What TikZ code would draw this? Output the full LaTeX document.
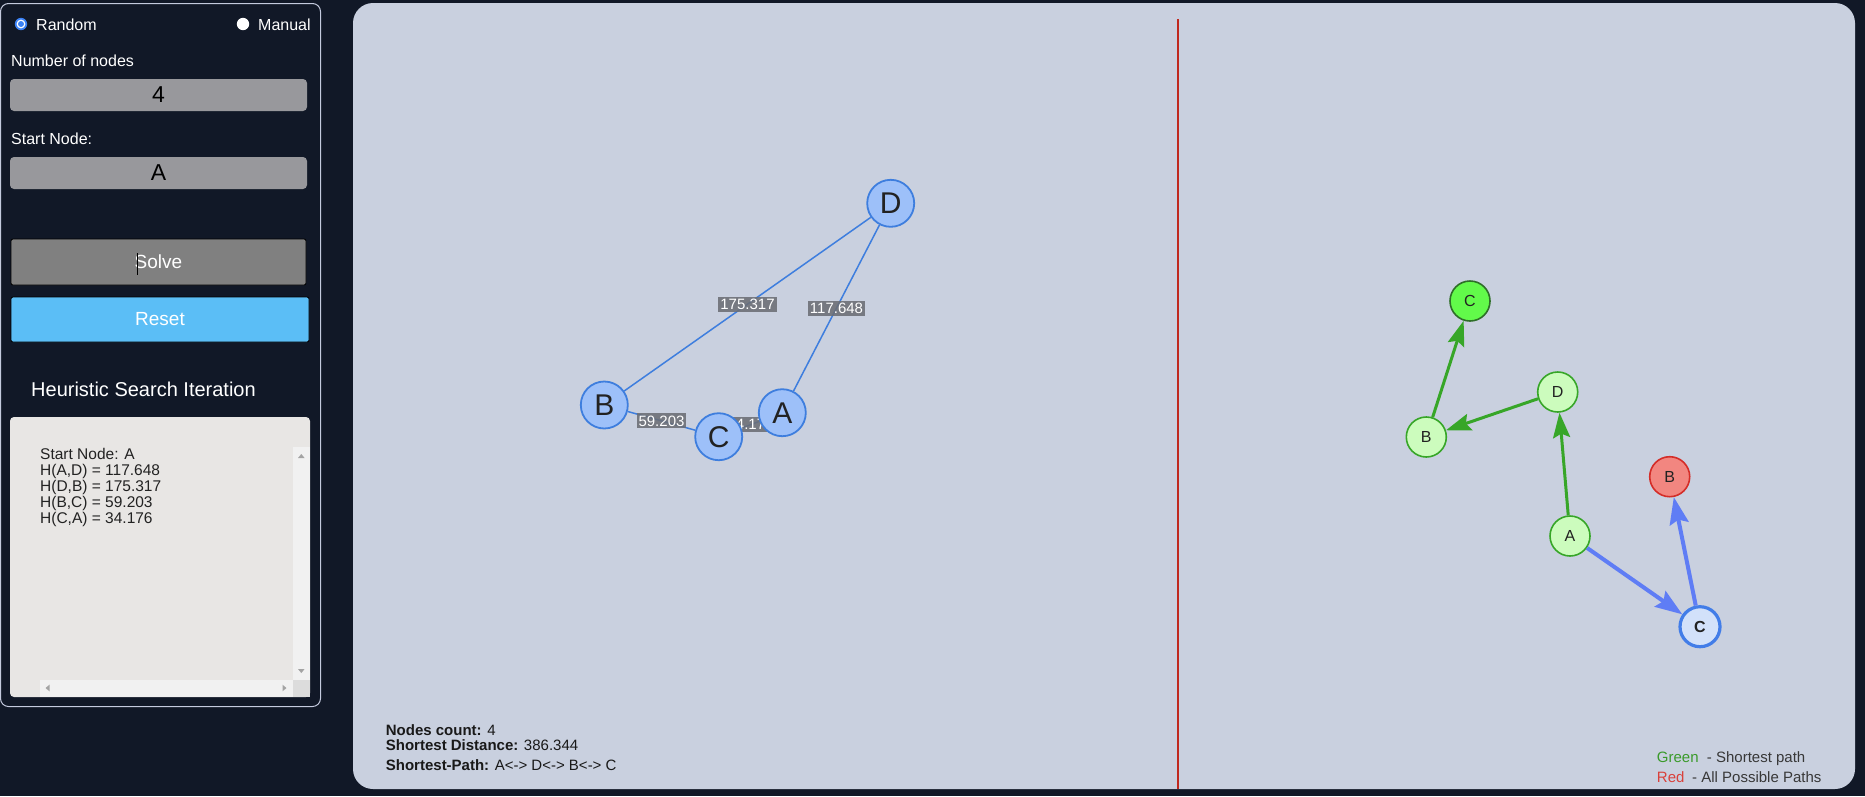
\documentclass[tikz,border=0pt]{standalone}
\usepackage{fontspec}
\setmainfont{Liberation Sans}
\usetikzlibrary{arrows.meta,backgrounds}
\definecolor{bgdark}{RGB}{17,24,39}
\definecolor{panelline}{RGB}{196,202,222}
\definecolor{mainfill}{RGB}{201,208,223}
\definecolor{inputgray}{RGB}{152,152,156}
\definecolor{solvegray}{RGB}{128,128,128}
\definecolor{resetblue}{RGB}{91,190,246}
\definecolor{boxfill}{RGB}{232,230,228}
\definecolor{scrolltrack}{RGB}{241,241,241}
\definecolor{scrollcorner}{RGB}{220,220,220}
\definecolor{scrollarrow}{RGB}{163,163,163}
\definecolor{txtdark}{RGB}{34,34,34}
\definecolor{nodeblue}{RGB}{157,192,249}
\definecolor{edgeblue}{RGB}{62,126,222}
\definecolor{labelgray}{RGB}{107,110,117}
\definecolor{lightgreen}{RGB}{204,252,189}
\definecolor{greenline}{RGB}{55,166,40}
\definecolor{brightgreen}{RGB}{98,250,74}
\definecolor{darkgreen}{RGB}{46,110,40}
\definecolor{redfill}{RGB}{242,134,128}
\definecolor{redline}{RGB}{212,45,40}
\definecolor{palelblue}{RGB}{210,225,250}
\definecolor{ringblue}{RGB}{66,125,232}
\definecolor{arrowblue}{RGB}{95,125,245}
\definecolor{dividerred}{RGB}{192,40,30}
\definecolor{legendgreen}{RGB}{58,154,42}
\definecolor{legendred}{RGB}{217,64,58}
\definecolor{radioblue}{RGB}{59,130,246}
\begin{document}
\begin{tikzpicture}[x=1pt,y=-1pt,
  paneltext/.style={anchor=base west, text=white, inner sep=0, font=\fontsize{16}{19}\selectfont},
  inputbox/.style={fill=inputgray, rounded corners=4, minimum width=297, minimum height=32, inner sep=0, text=black, font=\fontsize{23}{26}\selectfont},
  btn/.style={draw=black, line width=0.8, rounded corners=2, inner sep=0, text=white, font=\fontsize{19}{22}\selectfont},
  logline/.style={anchor=base west, inner sep=0, text=txtdark, font=\fontsize{15.5}{17}\selectfont},
  gnode/.style={circle, draw=edgeblue, fill=nodeblue, line width=1.8, minimum size=47, inner sep=0, text=txtdark, font=\fontsize{30}{30}\selectfont},
  gedge/.style={draw=edgeblue, line width=1.5},
  elabel/.style={fill=labelgray, fill opacity=0.88, text opacity=1, text=white, inner xsep=2, inner ysep=0, minimum height=15, font=\fontsize{15}{15}\selectfont},
  tnode/.style={circle, line width=1.6, minimum size=40, inner sep=0, text=txtdark, font=\fontsize{16}{16}\selectfont},
  greennode/.style={tnode, draw=greenline, fill=lightgreen},
  garrow/.style={draw=greenline, line width=3, -{Stealth[length=25,width=17,inset=4]}},
  barrow/.style={draw=arrowblue, line width=4, -{Stealth[length=27,width=19,inset=4]}},
  infotext/.style={anchor=base west, inner sep=0, text=black!90, font=\fontsize{15}{17}\selectfont},
  legendtext/.style={anchor=base west, inner sep=0, font=\fontsize{15}{17}\selectfont}
]
\useasboundingbox (0,0) rectangle (1865,796);

% ---------- left graph nodes (main layer, on top) ----------
\node[gnode] (D) at (890.7,203.3) {D};
\node[gnode] (B) at (604.3,405) {B};
\node[gnode] (C) at (718.7,436.7) {C};
\node[gnode] (A) at (782.3,412.7) {A};

\begin{scope}[on background layer]
\fill[bgdark] (0,0) rectangle (1865,796);
% ---------- left control panel ----------
\draw[panelline, line width=1, rounded corners=8] (0.5,3.5) rectangle (320.5,706.5);
% ---------- main panel ----------
\fill[mainfill, rounded corners=20] (353,3) rectangle (1855,789);
% left graph edges with weight labels
\draw[gedge] (B) -- (D) node[elabel, midway] (lbd) {175.317};
\draw[gedge] (A) -- (D) node[elabel, midway] (lad) {117.648};
\draw[gedge] (B) -- (C) node[elabel, midway] (lbc) {59.203};
\draw[gedge] (C) -- (A) node[elabel, midway] (lca) {34.176};
\end{scope}

% radios
\fill[radioblue] (21,24) circle (6.2);
\fill[white] (21,24) circle (4.4);
\fill[radioblue] (21,24) circle (3);
\node[paneltext] (random) at (36,30) {Random};
\fill[white] (243,24) circle (6.2);
\node[paneltext] (manual) at (258,30) {Manual};

\node[paneltext] (numlabel) at (11,66) {Number of nodes};
\node[inputbox] (numbox) at (158.5,95) {4};
\node[paneltext] (startlabel) at (11,144) {Start Node:};
\node[inputbox] (startbox) at (158.5,173) {A};

\node[btn, fill=solvegray, minimum width=295, minimum height=46] (solve) at (158.5,262) {Solve};
\draw[black, line width=0.8] (137.7,253) -- (137.7,275);
\node[btn, fill=resetblue, minimum width=298, minimum height=45] (reset) at (160,319.5) {Reset};

\node[anchor=base west, inner sep=0, text=white, font=\fontsize{20}{24}\selectfont] (heur) at (31,396) {Heuristic Search Iteration};

% log box
\fill[boxfill, rounded corners=4] (10,417) rectangle (310,697);
\fill[scrolltrack] (293,447) rectangle (310,680);
\fill[scrolltrack] (40,680) rectangle (293,697);
\fill[scrollcorner] (293,680) rectangle (310,697);
\fill[scrollarrow] (298,458) -- (304.6,458) -- (301.3,454) -- cycle;
\fill[scrollarrow] (298,669) -- (304.6,669) -- (301.3,673) -- cycle;
\fill[scrollarrow] (49.5,684.7) -- (49.5,691.3) -- (45.5,688) -- cycle;
\fill[scrollarrow] (282.5,684.7) -- (282.5,691.3) -- (286.5,688) -- cycle;
\node[logline] (l1) at (40,459) {Start Node: A};
\node[logline] (l2) at (40,475) {H(A,D) = 117.648};
\node[logline] (l3) at (40,491) {H(D,B) = 175.317};
\node[logline] (l4) at (40,507) {H(B,C) = 59.203};
\node[logline] (l5) at (40,523) {H(C,A) = 34.176};

% divider
\coordinate (divtop) at (1178,19);
\coordinate (divbot) at (1178,789);
\draw[dividerred, line width=1.3] (divtop) -- (divbot);

% right graph
\node[tnode, draw=darkgreen, fill=brightgreen] (rC) at (1470,301) {C};
\node[greennode] (rD) at (1557.7,392) {D};
\node[greennode] (rB) at (1426.3,437) {B};
\node[tnode, draw=redline, fill=redfill] (rBred) at (1669.7,476.7) {B};
\node[greennode] (rA) at (1570,536) {A};
\node[tnode, draw=ringblue, fill=palelblue, line width=3.2, font=\fontsize{16}{16}\selectfont\bfseries] (rCblue) at (1700,626.7) {C};
\draw[garrow] (rA) -- (rD);
\draw[garrow] (rD) -- (rB);
\draw[garrow] (rB) -- (rC);
\draw[barrow] (rA) -- (rCblue);
\draw[barrow] (rCblue) -- (rBred);

% info text
\node[infotext] (info1) at (385.7,735.7) {\textbf{Nodes count:} 4};
\node[infotext] (info2) at (385.7,750) {\textbf{Shortest Distance:} 386.344};
\node[infotext] (info3) at (385.7,770.7) {\textbf{Shortest-Path:} A<-> D<-> B<-> C};

% legend
\node[legendtext, text=legendgreen] (lg1) at (1656.7,762.7) {Green};
\node[legendtext, text=txtdark!90] (lg1b) at (1706.7,762.7) {- Shortest path};
\node[legendtext, text=legendred] (lg2) at (1656.7,782.7) {Red};
\node[legendtext, text=txtdark!90] (lg2b) at (1692,782.7) {- All Possible Paths};
\end{tikzpicture}
\end{document}
